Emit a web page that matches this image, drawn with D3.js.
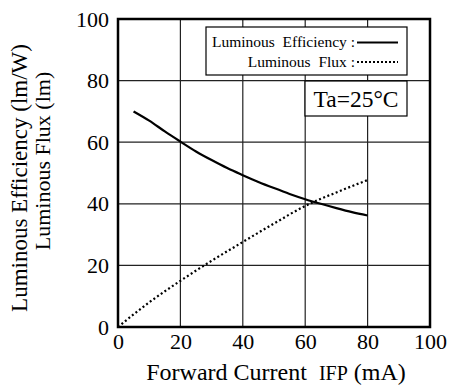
<!DOCTYPE html>
<html><head><meta charset="utf-8">
<script src="https://cdn.jsdelivr.net/npm/d3@7"></script>
<style>body{margin:0;background:#fff}svg{display:block}</style>
</head><body><svg id="c" width="450" height="387"></svg>
<script>
const effCurrent = [5,10,15,20,25,30,35,40,45,50,55,60,65,70,75,80];
const effValues  = [70,67,63.5,60.2,57,54.2,51.6,49.3,47.1,45.1,43.2,41.5,40,38.6,37.3,36.2];
const fluxCurrent = [0,10,20,30,40,50,60,70,80];
const fluxValues  = [0,8,15,21.5,27.6,33.6,39.3,43.7,47.7];
const xTicks = [0,20,40,60,80,100];
const yTicks = [0,20,40,60,80,100];

const FF = "Liberation Serif";
const svg = d3.select("#c");
const L=118,R=430,T=19,B=327;
const x = d3.scaleLinear().domain([0,100]).range([L,R]);
const y = d3.scaleLinear().domain([0,100]).range([B,T]);

svg.append("g").selectAll("line").data(xTicks.slice(1,-1)).join("line")
  .attr("x1",d=>x(d)).attr("x2",d=>x(d)).attr("y1",T).attr("y2",B)
  .attr("stroke","#222").attr("stroke-width",1.2);
svg.append("g").selectAll("line").data(yTicks.slice(1,-1)).join("line")
  .attr("y1",d=>y(d)).attr("y2",d=>y(d)).attr("x1",L).attr("x2",R)
  .attr("stroke","#222").attr("stroke-width",1.2);

const xa = svg.append("g").attr("transform",`translate(0,${B})`)
  .call(d3.axisBottom(x).tickValues(xTicks).tickSize(0).tickPadding(6));
const ya = svg.append("g").attr("transform",`translate(${L},0)`)
  .call(d3.axisLeft(y).tickValues(yTicks).tickSize(0).tickPadding(9));
[xa,ya].forEach(a=>{a.attr("font-family",null).attr("font-size",null);a.select(".domain").remove();
  a.selectAll("text").attr("fill","#000").attr("font-family",FF).attr("font-size",22);});

svg.append("rect").attr("x",L).attr("y",T).attr("width",R-L).attr("height",B-T)
  .attr("fill","none").attr("stroke","#000").attr("stroke-width",2.5);

const line = d3.line().x(d=>x(d[0])).y(d=>y(d[1])).curve(d3.curveMonotoneX);
svg.append("path").datum(effCurrent.map((c,i)=>[c,effValues[i]])).attr("d",line)
  .attr("fill","none").attr("stroke","#000").attr("stroke-width",2.2);
svg.append("path").datum(fluxCurrent.map((c,i)=>[c,fluxValues[i]])).attr("d",line)
  .attr("fill","none").attr("stroke","#000").attr("stroke-width",2.2).attr("stroke-dasharray","2,2.5");

svg.append("rect").attr("x",206).attr("y",27).attr("width",201).attr("height",48)
  .attr("fill","#fff").attr("stroke","#000").attr("stroke-width",1.2);
svg.append("text").attr("x",355).attr("y",47).attr("text-anchor","end").attr("font-family",FF).attr("font-size",15.5)
  .attr("xml:space","preserve").text("Luminous  Efficiency :");
svg.append("text").attr("x",355).attr("y",67).attr("text-anchor","end").attr("font-family",FF).attr("font-size",15.5)
  .attr("xml:space","preserve").text("Luminous  Flux :");
svg.append("line").attr("x1",357).attr("x2",398).attr("y1",42.5).attr("y2",42.5).attr("stroke","#000").attr("stroke-width",2.2);
svg.append("line").attr("x1",357).attr("x2",398).attr("y1",62).attr("y2",62).attr("stroke","#000").attr("stroke-width",2).attr("stroke-dasharray","2,2");

svg.append("rect").attr("x",305).attr("y",81).attr("width",102).attr("height",35)
  .attr("fill","#fff").attr("stroke","#000").attr("stroke-width",1.2);
svg.append("text").attr("x",356).attr("y",107).attr("text-anchor","middle").attr("font-family",FF).attr("font-size",23.5).text("Ta=25°C");

const xt = svg.append("text").attr("x",276).attr("y",380).attr("text-anchor","middle").attr("font-family",FF).attr("font-size",24).attr("xml:space","preserve");
xt.append("tspan").text("Forward Current  ");
xt.append("tspan").attr("font-size",20).text("IFP");
xt.append("tspan").text(" (mA)");

svg.append("text").attr("transform","translate(27,178) rotate(-90)").attr("text-anchor","middle").attr("font-family",FF).attr("font-size",23).text("Luminous Efficiency (lm/W)");
svg.append("text").attr("transform","translate(50,161) rotate(-90)").attr("text-anchor","middle").attr("font-family",FF).attr("font-size",22).text("Luminous Flux (lm)");
</script></body></html>
